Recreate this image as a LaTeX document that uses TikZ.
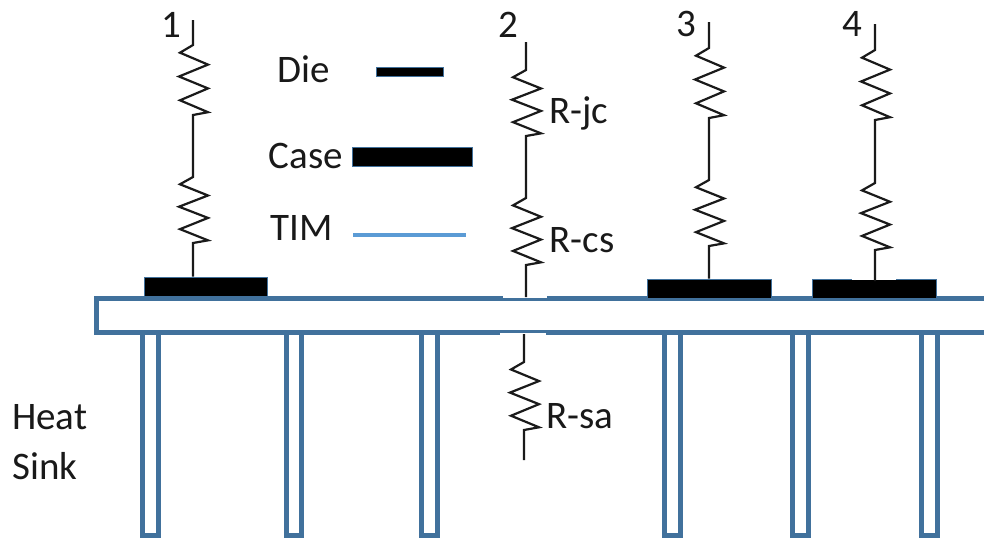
\documentclass[tikz,border=0pt]{standalone}
\usepackage{fontspec}
\setmainfont{Carlito}
\definecolor{sinkblue}{HTML}{41719C}
\definecolor{timblue}{HTML}{5B9BD5}
\definecolor{wire}{HTML}{1A1A1A}
\tikzset{
  x=1pt,y=-1pt,
  wireline/.style={draw=wire,line width=2.2pt,line join=miter},
  block/.style={draw=sinkblue,line width=1.4pt,fill=black,inner sep=0pt,minimum width=#1,minimum height=19pt},
  label/.style={inner sep=0pt,font=\fontsize{39}{42}\selectfont,text=black!90},
  sinkline/.style={draw=sinkblue,line width=5pt},
  finbox/.style={draw=sinkblue,line width=5pt,fill=white},
  zz/.style={insert path={-- ++(-13,{0.11*#1}) -- ++(28,{0.17*#1}) -- ++(-29,{0.17*#1}) -- ++(29,{0.17*#1}) -- ++(-28,{0.17*#1}) -- ++(28,{0.17*#1}) -- ++(-15,{0.04*#1})}},
}
\begin{document}
\begin{tikzpicture}
\useasboundingbox (0,0) rectangle (984,539);
\fill[white] (0,0) rectangle (984,539);

% fins
\foreach \a/\b in {142/158,286/301,421/437,664/680,792/808,921/937}
  \draw[finbox] (\a,332) rectangle (\b,535);
% plate
\fill[white] (96,298) rectangle (984,332);
\draw[sinkline,line join=miter] (984,298) -- (96,298) -- (96,332) -- (984,332);
% gaps in the plate
\draw[white,line width=3pt] (503,296) -- (547,296);
\draw[white,line width=3pt] (500,334) -- (546,334);

% dies
\node[block=123pt,anchor=north west] (c1) at (144,276.5) {};
\node[block=124pt,anchor=north west] (c3) at (647,278.5) {};
\node[block=124pt,anchor=north west] (c4) at (812,278.5) {};
\fill[white] (852,277) rectangle (896,280);

% free ends
\coordinate (t1) at (193,20);
\coordinate (t2) at (526,42);
\coordinate (t3) at (709,22);
\coordinate (t4) at (875,24);
\coordinate (b2) at (526,297);
\coordinate (t5) at (524,334);
\coordinate (b5) at (524,460);
\coordinate (e4) at (875,281);

% resistors
\draw[wireline] (t1) -- (193,45) [zz=70] -- (193,177) [zz=66] -- (c1.north -| t1);
\draw[wireline] (t2) -- (526,70) [zz=66] -- (526,198) [zz=67] -- (b2);
\draw[wireline] (t3) -- (709,48) [zz=70] -- (709,180) [zz=66] -- (c3.north -| t3);
\draw[wireline] (t4) -- (875,50) [zz=70] -- (875,183) [zz=67] -- (e4);
\draw[wireline] (t5) -- (524,362) [zz=68] -- (b5);

% labels
\node[label] (n1) at (171,25) {1};
\node[label] (n2) at (508,25) {2};
\node[label] (n3) at (686,24) {3};
\node[label] (n4) at (852,24) {4};
\node[label] (ldie) at (304,69) {Die};
\node[label] (lcase) at (306,156) {Case};
\node[label] (ltim) at (302,228) {TIM};
\node[label] (rjc) at (579,113) {R-jc};
\node[label] (rcs) at (582,240) {R-cs};
\node[label] (rsa) at (580,416) {R-sa};
\node[label,anchor=west] (heat) at (12,417) {Heat};
\node[label,anchor=west] (sink) at (12,466) {Sink};

% legend
\node[draw=sinkblue,line width=1.4pt,fill=black,inner sep=0pt,minimum width=67pt,minimum height=9pt] (kdie) at (410,72) {};
\node[block=120pt] (kcase) at (412.5,157) {};
\coordinate (ka) at (353,235);
\coordinate (kb) at (466,235);
\draw[timblue,line width=4.5pt] (ka) -- (kb);
\end{tikzpicture}
\end{document}
